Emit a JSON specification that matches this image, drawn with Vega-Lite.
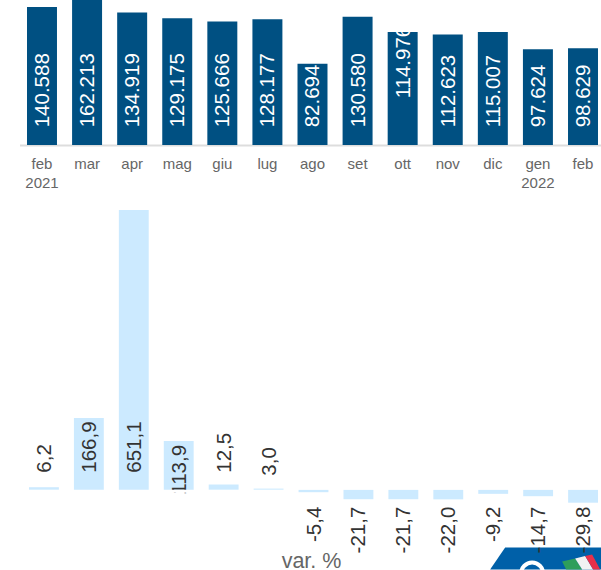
{
"$schema":"https://vega.github.io/schema/vega-lite/v6.json",
"padding":0,
"bounds":"flush",
"spacing":60,
"background":"white",
"config":{"view":{"stroke":null},"text":{"font":"Liberation Sans"},"axis":{"labelFont":"Liberation Sans"}},
"vconcat":[
{"width":601,"height":145,
 "data":{"values":[
 {"m":"feb 2021","v":140588,"l":"140.588"},{"m":"mar","v":162213,"l":"162.213"},{"m":"apr","v":134919,"l":"134.919"},{"m":"mag","v":129175,"l":"129.175"},{"m":"giu","v":125666,"l":"125.666"},{"m":"lug","v":128177,"l":"128.177"},{"m":"ago","v":82694,"l":"82.694"},{"m":"set","v":130580,"l":"130.580"},{"m":"ott","v":114976,"l":"114.976"},{"m":"nov","v":112623,"l":"112.623"},{"m":"dic","v":115007,"l":"115.007"},{"m":"gen 2022","v":97624,"l":"97.624"},{"m":"feb 2022","v":98629,"l":"98.629"}]},
 "encoding":{"x":{"field":"m","type":"nominal","sort":null,"scale":{"range":[19.5,601],"paddingInner":0.335,"paddingOuter":0.1165,"align":0.714},
   "axis":{"title":null,"labelAngle":0,"ticks":false,"domainColor":"#dddddd","domainWidth":2,"labelColor":"#666666","labelFontSize":15,"labelPadding":11,"labelLineHeight":19,"labelBaseline":"top","labelExpr":"datum.label=='feb 2022'?'feb':split(datum.label,' ')"}}},
 "layer":[
  {"mark":{"type":"bar","color":"#005082","clip":true},"encoding":{"y":{"field":"v","type":"quantitative","scale":{"domain":[0,147658],"nice":false},"axis":null}}},
  {"transform":[{"filter":"datum.m!='ott'"}],"mark":{"type":"text","angle":270,"align":"left","baseline":"middle","fontSize":20.5,"color":"#ffffff","dy":1},"encoding":{"y":{"datum":18000,"scale":{"domain":[0,147658],"nice":false},"axis":null},"text":{"field":"l"}}},
  {"transform":[{"filter":"datum.m=='ott'"}],"mark":{"type":"text","angle":270,"align":"left","baseline":"middle","fontSize":20.5,"color":"#ffffff","dx":29,"dy":1},"encoding":{"y":{"datum":18000,"scale":{"domain":[0,147658],"nice":false},"axis":null},"text":{"field":"l"}}}
 ]},
{"width":601,"height":365,
 "data":{"values":[
 {"m":"feb 2021","v":6.2,"l":"6,2"},{"m":"mar","v":166.9,"l":"166,9"},{"m":"apr","v":651.1,"l":"651,1"},{"m":"mag","v":113.9,"l":"113,9"},{"m":"giu","v":12.5,"l":"12,5"},{"m":"lug","v":3.0,"l":"3,0"},{"m":"ago","v":-5.4,"l":"-5,4"},{"m":"set","v":-21.7,"l":"-21,7"},{"m":"ott","v":-21.7,"l":"-21,7"},{"m":"nov","v":-22.0,"l":"-22,0"},{"m":"dic","v":-9.2,"l":"-9,2"},{"m":"gen 2022","v":-14.7,"l":"-14,7"},{"m":"feb 2022","v":-29.8,"l":"-29,8"}]},
 "encoding":{"x":{"field":"m","type":"nominal","sort":null,"scale":{"range":[29,598],"paddingInner":0.335,"paddingOuter":0},"axis":null}},
 "layer":[
  {"transform":[{"filter":"datum.v>=0"}],"mark":{"type":"bar","color":"#cceaff"},"encoding":{"y":{"field":"v","type":"quantitative","scale":{"domain":[-186.3,662.5],"nice":false},"axis":null}}},
  {"transform":[{"filter":"datum.l=='113,9'"}],"mark":{"type":"text","angle":270,"align":"left","baseline":"middle","fontSize":20.5,"color":"#333333","dx":-22,"dy":1},"encoding":{"y":{"datum":40},"text":{"field":"l"}}},
  {"data":{"values":[{"k":"zero"}]},"mark":{"type":"rule","color":"#ffffff","strokeWidth":3,"clip":true},"encoding":{"x":{},"y":{"datum":-3}}},
  {"transform":[{"filter":"datum.v<0"}],"mark":{"type":"bar","color":"#cceaff"},"encoding":{"y":{"field":"v","type":"quantitative"}}},
  {"data":{"values":[{"k":"badge"}]},"mark":{"type":"point","clip":true,"filled":true,"opacity":1,"size":40000,"color":"#0060a8","strokeWidth":0,"shape":"M -0.33 -0.12 L 0.7 -0.12 L 0.7 0.1 L -0.48 0.1 Z"},"encoding":{"x":{"datum":"gen 2022"},"y":{"datum":-162}}},
  {"data":{"values":[{"k":"ring"}]},"mark":{"type":"point","clip":true,"filled":false,"opacity":1,"size":484,"color":"#ffffff","strokeWidth":4,"shape":"circle","xOffset":-6,"yOffset":14},"encoding":{"x":{"datum":"gen 2022"},"y":{"datum":-162}}},
  {"data":{"values":[{"k":"verde"}]},"mark":{"type":"point","clip":true,"filled":true,"opacity":1,"size":40000,"color":"#2e9e5b","strokeWidth":0,"shape":"M 0.24 0.02 L 0.37 -0.01 L 0.44 0.1 L 0.28 0.1 Z"},"encoding":{"x":{"datum":"gen 2022"},"y":{"datum":-162}}},
  {"data":{"values":[{"k":"bianco"}]},"mark":{"type":"point","clip":true,"filled":true,"opacity":1,"size":40000,"color":"#f2f2f2","strokeWidth":0,"shape":"M 0.37 -0.01 L 0.47 -0.035 L 0.55 0.1 L 0.44 0.1 Z"},"encoding":{"x":{"datum":"gen 2022"},"y":{"datum":-162}}},
  {"data":{"values":[{"k":"rosso"}]},"mark":{"type":"point","clip":true,"filled":true,"opacity":1,"size":40000,"color":"#e8304a","strokeWidth":0,"shape":"M 0.47 -0.035 L 0.54 -0.05 L 0.62 0.1 L 0.55 0.1 Z"},"encoding":{"x":{"datum":"gen 2022"},"y":{"datum":-162}}},
  {"transform":[{"filter":"datum.v>=0 && datum.l!='3,0' && datum.l!='113,9'"}],"mark":{"type":"text","angle":270,"align":"left","baseline":"middle","fontSize":20.5,"color":"#333333","dy":1},"encoding":{"y":{"datum":40},"text":{"field":"l"}}},
  {"transform":[{"filter":"datum.l=='3,0'"}],"mark":{"type":"text","angle":270,"align":"left","baseline":"middle","fontSize":20.5,"color":"#333333","dx":-3,"dy":1},"encoding":{"y":{"datum":40},"text":{"field":"l"}}},
  {"transform":[{"filter":"datum.v<0"}],"mark":{"type":"text","angle":270,"align":"right","baseline":"middle","fontSize":20.5,"color":"#333333","dy":1},"encoding":{"y":{"datum":-39},"text":{"field":"l"}}},
  {"data":{"values":[{"k":"titolo"}]},"mark":{"type":"text","fontSize":21.5,"color":"#666666","dx":-2},"encoding":{"x":{"datum":"ago"},"y":{"datum":-167},"text":{"value":"var. %"}}}
 ]}
]}
